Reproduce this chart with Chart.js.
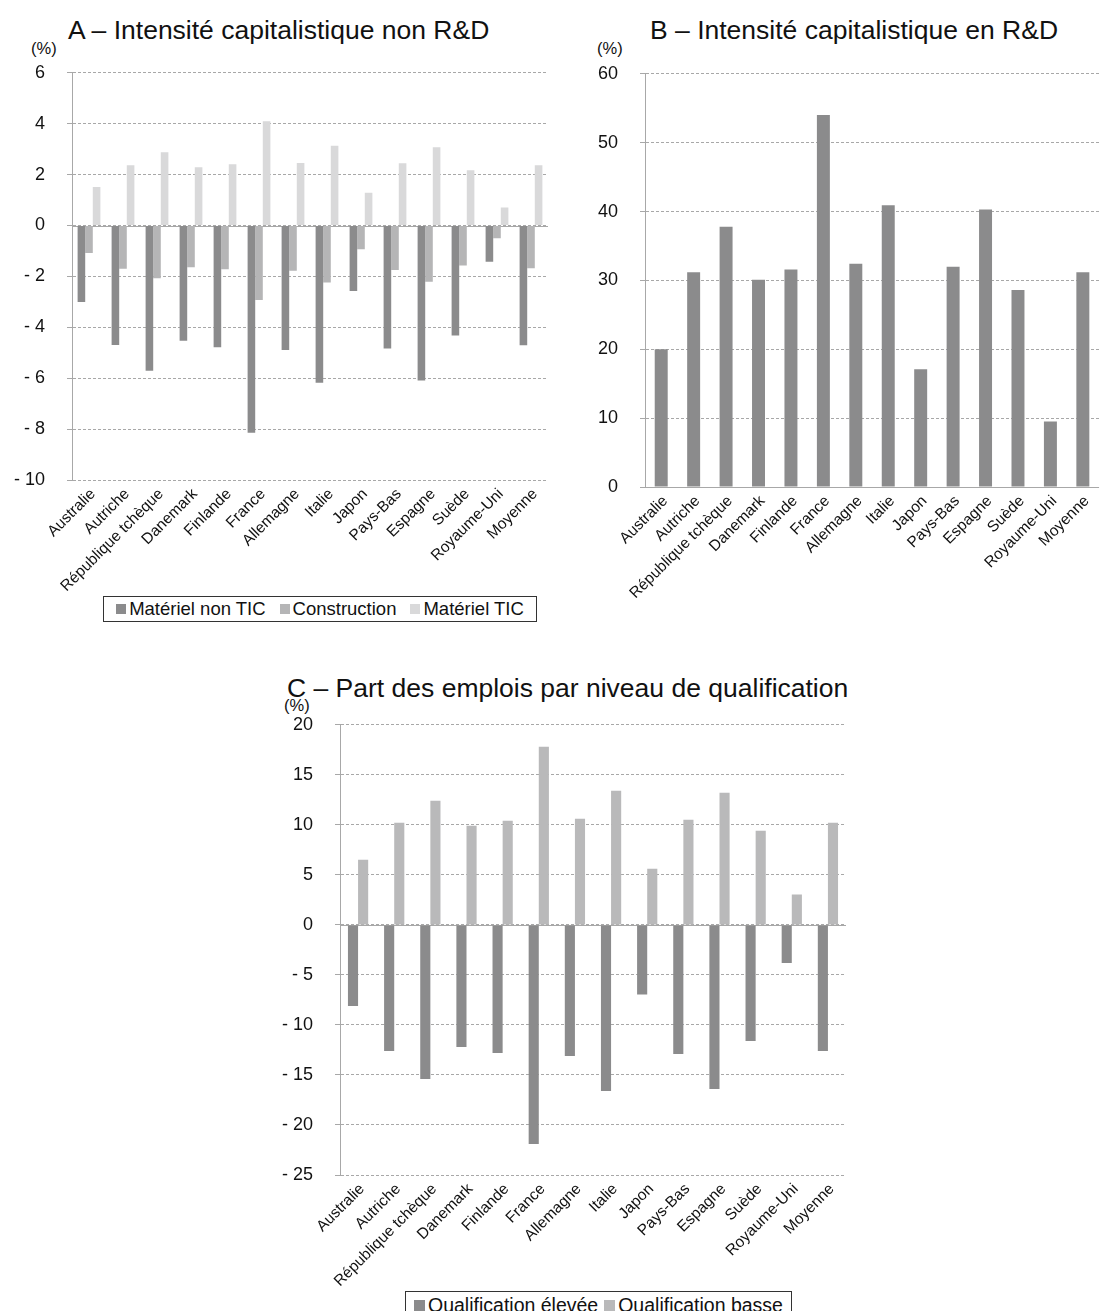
<!DOCTYPE html>
<html><head><meta charset="utf-8">
<script src="https://cdn.jsdelivr.net/npm/chart.js@4/dist/chart.umd.min.js"></script>
<style>
html,body{margin:0;padding:0;background:#fff;width:1101px;height:1311px;overflow:hidden;font-family:"Liberation Sans",Arial,sans-serif;color:#111;}
.box{position:absolute;}
.t{position:absolute;white-space:nowrap;font-size:26.5px;line-height:26px;}
.u{position:absolute;white-space:nowrap;font-size:16.5px;line-height:16px;}
.leg{position:absolute;border:1px solid #333;box-sizing:border-box;display:flex;align-items:center;justify-content:center;font-size:18.5px;white-space:nowrap;}
.leg span.sq{display:inline-block;width:10px;height:10px;margin-right:3px;}
.leg span.it{margin:0 7px;display:inline-flex;align-items:center;}
</style></head><body>
<div class="t" style="left:68px;top:17px;">A – Intensité capitalistique non R&amp;D</div>
<div class="u" style="left:31px;top:40px;">(%)</div>
<div class="t" style="left:650px;top:17px;">B – Intensité capitalistique en R&amp;D</div>
<div class="u" style="left:597px;top:40px;">(%)</div>
<div class="t" style="left:287px;top:675px;">C – Part des emplois par niveau de qualification</div>
<div class="u" style="left:284px;top:697px;">(%)</div>

<div class="box" style="left:0px;top:40px;width:550px;height:555px;"><canvas id="cA" width="550" height="555"></canvas></div>
<div class="box" style="left:560px;top:41px;width:541px;height:561px;"><canvas id="cB" width="541" height="561"></canvas></div>
<div class="box" style="left:250px;top:692px;width:600px;height:598px;"><canvas id="cC" width="600" height="598"></canvas></div>

<div class="leg" style="left:103px;top:596px;width:434px;height:26px;">
 <span class="it"><span class="sq" style="background:#8b8b8c"></span>Matériel non TIC</span>
 <span class="it"><span class="sq" style="background:#b5b5b6"></span>Construction</span>
 <span class="it"><span class="sq" style="background:#d9d9da"></span>Matériel TIC</span>
</div>
<div class="leg" style="left:405px;top:1291px;width:387px;height:30px;align-items:flex-start;padding-top:2px;font-size:19.5px;">
 <span class="it" style="margin:0 3px"><span class="sq" style="background:#8b8b8c;width:11px;height:11px"></span>Qualification élevée</span>
 <span class="it" style="margin:0 3px"><span class="sq" style="background:#b9b9ba;width:11px;height:11px"></span>Qualification basse</span>
</div>

<script>
const categories = ["Australie","Autriche","République tchèque","Danemark","Finlande","France","Allemagne","Italie","Japon","Pays-Bas","Espagne","Suède","Royaume-Uni","Moyenne"];

// Panel A
const materielNonTIC = [-3.01,-4.70,-5.71,-4.53,-4.78,-8.14,-4.89,-6.18,-2.57,-4.83,-6.09,-4.32,-1.42,-4.71];
const construction   = [-1.08,-1.70,-2.07,-1.64,-1.72,-2.93,-1.78,-2.24,-0.93,-1.75,-2.21,-1.57,-0.50,-1.68];
const materielTIC    = [1.51,2.37,2.88,2.29,2.41,4.10,2.46,3.13,1.29,2.45,3.07,2.17,0.71,2.37];
const ticksA = [-10,-8,-6,-4,-2,0,2,4,6];

// Panel B
const intensiteRD = [20.0,31.2,37.8,30.1,31.6,54.0,32.4,40.9,17.1,32.0,40.3,28.6,9.5,31.2];
const ticksB = [0,10,20,30,40,50,60];

// Panel C
const qualifElevee = [-8.1,-12.6,-15.4,-12.2,-12.8,-21.9,-13.1,-16.6,-6.95,-12.9,-16.4,-11.6,-3.8,-12.6];
const qualifBasse  = [6.5,10.2,12.4,9.9,10.4,17.8,10.6,13.4,5.6,10.5,13.2,9.4,3.05,10.2];
const ticksC = [-25,-20,-15,-10,-5,0,5,10,15,20];

const FONT = '"Liberation Sans", Arial, sans-serif';
const GRID = '#a8a8a8';

const zeroLine = {
  id:'zeroLine',
  beforeDatasetsDraw(chart){
    const y = chart.scales.y.getPixelForValue(0);
    const {left,right} = chart.chartArea;
    const ctx = chart.ctx;
    ctx.save();
    ctx.strokeStyle = GRID; ctx.lineWidth = 1; ctx.setLineDash([]);
    ctx.beginPath(); ctx.moveTo(left, Math.round(y)+0.5); ctx.lineTo(right, Math.round(y)+0.5); ctx.stroke();
    ctx.restore();
  }
};

function fmt(v){ return v < 0 ? '- ' + Math.abs(v) : String(v); }

function makeChart(id, datasets, ticks, yWidth, pad, catPct){
  const min = ticks[0], max = ticks[ticks.length-1];
  return new Chart(document.getElementById(id), {
    type:'bar',
    data:{labels:categories, datasets},
    options:{
      responsive:false, animation:false,
      layout:{padding:pad},
      plugins:{legend:{display:false}, tooltip:{enabled:false}},
      datasets:{bar:{categoryPercentage:catPct, barPercentage:1.0}},
      scales:{
        x:{
          grid:{display:false, drawTicks:false},
          border:{display:false},
          ticks:{autoSkip:false, maxRotation:45, minRotation:45, padding:5, labelOffset:4, color:'#111', font:{family:FONT, size:15.5}},
          afterFit(s){ s.height = 115; }
        },
        y:{
          min, max,
          afterBuildTicks(s){ s.ticks = ticks.map(v=>({value:v})); },
          grid:{color:GRID, lineWidth:1, drawTicks:true, tickLength:5, tickColor:GRID},
          border:{display:true, color:GRID, width:1, dash:[3,2]},
          ticks:{padding:22, color:'#111', font:{family:FONT, size:18}, callback:(v)=>fmt(v)},
          afterFit(s){ s.width = yWidth; }
        }
      }
    },
    plugins:[zeroLine]
  });
}

makeChart('cA', [
  {label:'Matériel non TIC', data:materielNonTIC, backgroundColor:'#8b8b8c'},
  {label:'Construction', data:construction, backgroundColor:'#b5b5b6'},
  {label:'Matériel TIC', data:materielTIC, backgroundColor:'#d9d9da'}
], ticksA, 72, {top:0, right:2, left:0, bottom:0}, 0.67);

makeChart('cB', [
  {label:'Intensité capitalistique en R&D', data:intensiteRD, backgroundColor:'#8b8b8c'}
], ticksB, 85, {top:0, right:0, left:0, bottom:0}, 0.40);

makeChart('cC', [
  {label:'Qualification élevée', data:qualifElevee, backgroundColor:'#8b8b8c'},
  {label:'Qualification basse', data:qualifBasse, backgroundColor:'#b9b9ba'}
], ticksC, 90, {top:0, right:4, left:0, bottom:0}, 0.56);
</script>
</body></html>
